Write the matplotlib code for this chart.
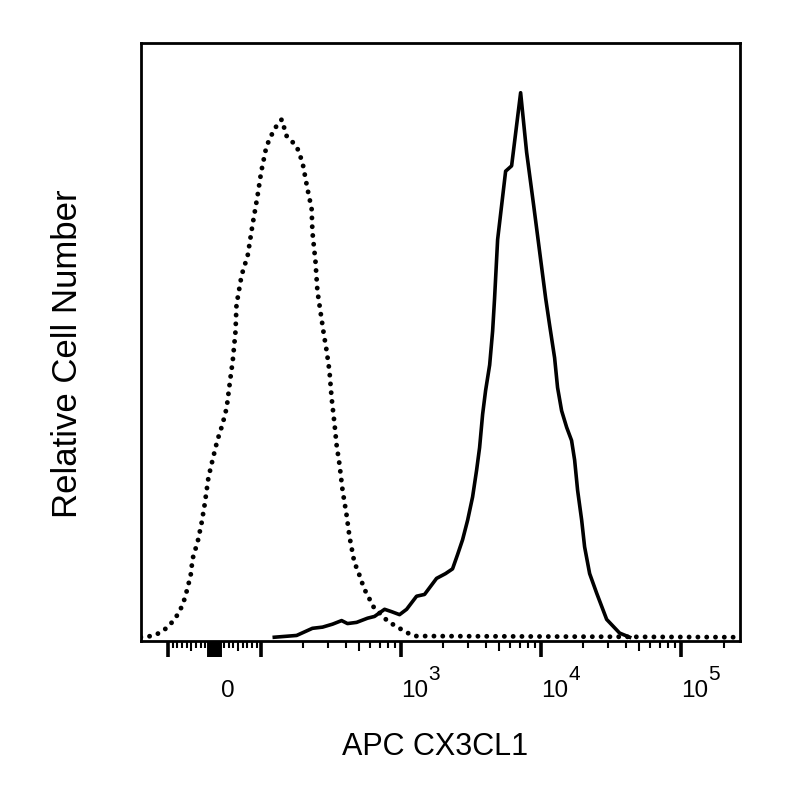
import matplotlib
matplotlib.use("Agg")
import matplotlib.pyplot as plt

plt.rcParams["font.family"] = ["Liberation Sans", "DejaVu Sans"]

# --- data (x = fluorescence, y = % of axis height) ---
# isotype control (dotted)
ctrl_x = [-156, -131, -115, -100, -86, -75, -66, -58, -51, -47, -36, -28, -21, -13,
          -4, 6, 17, 26, 34, 39, 45, 47, 58, 71, 81, 92, 100, 109, 124, 140, 152,
          179, 197, 214, 229, 232, 244, 252, 279, 293, 307, 318, 334, 345, 362,
          381, 406, 427, 464, 487, 520, 556, 594, 644, 723, 798, 925, 1092, 1245,
          262144]
ctrl_y = [0.0, 0.2, 0.7, 1.7, 3.0, 4.3, 6.0, 8.2, 10.5, 13.2, 16.1, 19.1, 22.4,
          26.9, 29.9, 33.1, 35.8, 38.6, 43.6, 46.5, 51.5, 55.9, 60.9, 64.2, 69.2,
          74.2, 78.3, 82.6, 85.5, 87.1, 84.3, 82.6, 79.9, 75.4, 72.1, 68.2, 63.2,
          58.2, 51.2, 48.2, 44.8, 40.3, 35.8, 32.4, 29.1, 24.7, 20.7, 16.9, 12.4,
          11.4, 9.4, 7.7, 6.4, 4.8, 3.8, 2.7, 1.8, 0.8, 0.2, 0.0]

# APC CX3CL1 stained (solid)
stain_x = [124, 179, 232, 274, 323, 375, 413, 480, 574, 644, 760, 853, 972, 1092,
           1286, 1466, 1786, 2070, 2323, 2523, 2740, 2978, 3230, 3450, 3624, 3809,
           4000, 4276, 4490, 4636, 4875, 5560, 6135, 7115, 7850, 8810, 10740,
           11460, 12440, 13060, 13960, 15170, 16440, 17290, 18160, 19410, 20370,
           22130, 24850, 29270, 36220, 42730]
stain_y = [0.0, 0.3, 1.5, 1.7, 2.2, 2.8, 2.3, 2.5, 3.2, 3.5, 4.7, 4.3, 3.8, 4.7,
           6.9, 7.2, 9.9, 10.7, 11.5, 13.9, 16.4, 19.7, 23.6, 28.1, 31.9, 37.5,
           41.5, 45.8, 51.5, 57.0, 66.9, 78.4, 79.3, 91.6, 81.6, 72.7, 57.0, 52.5,
           47.0, 42.0, 38.1, 35.3, 33.1, 29.8, 24.7, 19.7, 15.2, 10.7, 7.4, 3.0,
           0.7, 0.0]

XMIN, XMAX = -156, 262144
major_ticks = [-100, 0, 100, 1000, 10000, 100000]
tick_labels = {0: "0", 1000: "10", 10000: "10", 100000: "10"}
exponents = {1000: "3", 10000: "4", 100000: "5"}

# tick sets of the biexponential axis
zero_ticks = [s * m for m in range(2, 13) for s in (-1, 1)]
mid_ticks = [-50, 50, 500, 5000, 50000]
minor_ticks = [s * m for m in (20, 30, 40, 60, 70, 80, 90) for s in (-1, 1)]
for dec in (100, 1000, 10000, 100000):
    minor_ticks += [k * dec for k in (2, 3, 4, 6, 7, 8, 9) if k * dec < XMAX]

fig = plt.figure(figsize=(8, 8), dpi=100)
ax = fig.add_axes([0.176, 0.199, 0.749, 0.7475])

ax.plot(ctrl_x, ctrl_y, color="black", lw=3.5, linestyle=(0, (0.01, 1.8)),
        dash_capstyle="round")
ax.plot(stain_x, stain_y, color="black", lw=2.6, solid_joinstyle="round")


def biex(a):
    a.set_xscale("symlog", linthresh=100, linscale=0.3)
    a.set_xlim(XMIN, XMAX)


biex(ax)
ax.set_ylim(-0.6, 100)
ax.set_xticks(major_ticks)
ax.set_xticks(minor_ticks, minor=True)
ax.tick_params(axis="x", which="major", direction="out", length=11.5, width=2.6,
               labelbottom=False)
ax.tick_params(axis="x", which="minor", direction="out", length=5.2, width=1.5)
ax.set_yticks([])
for sp in ax.spines.values():
    sp.set_linewidth(2)

# extra tick rows: a longer tick on the 5s and a solid block around 0
for ticks, length, width in ((mid_ticks, 7.5, 1.5), (zero_ticks, 11.5, 2.6)):
    tw = ax.twiny()
    biex(tw)
    tw.set_xticks(ticks)
    tw.xaxis.set_ticks_position("bottom")
    tw.tick_params(axis="x", direction="out", length=length, width=width,
                   labelbottom=False, labeltop=False)
    for sp in tw.spines.values():
        sp.set_visible(False)
    tw.patch.set_visible(False)

for v, lab in tick_labels.items():
    dx = 6 if v == 0 else 0
    ax.annotate(lab, xy=(v, 0), xycoords=("data", "axes fraction"),
                xytext=(dx, -56), textcoords="offset pixels",
                ha="left", va="baseline", fontsize=17.5)
for v, e in exponents.items():
    ax.annotate(e, xy=(v, 0), xycoords=("data", "axes fraction"),
                xytext=(27, -39), textcoords="offset pixels",
                ha="left", va="baseline", fontsize=15)

ax.set_xlabel("APC CX3CL1", fontsize=22)
ax.xaxis.set_label_coords(0.491, -0.152)
ax.set_ylabel("Relative Cell Number", fontsize=25)
ax.yaxis.set_label_coords(-0.095, 0.48)

fig.savefig("out.png", dpi=100)
